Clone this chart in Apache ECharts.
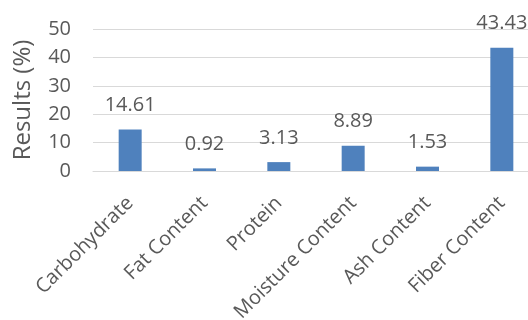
<!DOCTYPE html>
<html>
<head>
<meta charset="utf-8">
<script src="https://cdn.jsdelivr.net/npm/echarts@6/dist/echarts.min.js"></script>
<style>
  html, body { margin: 0; padding: 0; background: #fff; }
  #main { width: 528px; height: 320px; }
</style>
</head>
<body>
<div id="main"></div>
<script>
var categories = ["Carbohydrate", "Fat Content", "Protein", "Moisture Content", "Ash Content", "Fiber Content"];
var results = [14.61, 0.92, 3.13, 8.89, 1.53, 43.43];
var yTicks = [0, 10, 20, 30, 40, 50];

var textColor = "#595959";
var fontFamily = "Open Sans";

var myChart = echarts.init(document.getElementById("main"), null, { renderer: "canvas" });

var option = {
  animation: false,
  grid: {
    left: 93,
    right: -11,
    top: 29,
    bottom: 149,
    outerBoundsMode: "none"
  },
  xAxis: {
    type: "category",
    data: categories,
    axisLine: { show: true, lineStyle: { color: "#d9d9d9", width: 1 } },
    axisTick: { show: false },
    axisLabel: {
      rotate: 45,
      interval: 0,
      margin: 29,
      color: textColor,
      fontFamily: fontFamily,
      fontSize: 20
    }
  },
  yAxis: {
    type: "value",
    min: yTicks[0],
    max: yTicks[yTicks.length - 1],
    interval: 10,
    name: "Results (%)",
    nameLocation: "middle",
    nameGap: 58,
    nameTextStyle: { color: textColor, fontFamily: fontFamily, fontSize: 24 },
    axisLine: { show: false },
    axisTick: { show: false },
    splitLine: { lineStyle: { color: "#d9d9d9", width: 1 } },
    axisLabel: {
      margin: 22,
      color: textColor,
      fontFamily: fontFamily,
      fontSize: 20
    }
  },
  series: [
    {
      type: "bar",
      data: results,
      barWidth: 23,
      itemStyle: { color: "#4f81bd" },
      label: {
        show: true,
        position: "top",
        distance: 14,
        color: textColor,
        fontFamily: fontFamily,
        fontSize: 20
      }
    }
  ]
};

myChart.setOption(option);
</script>
</body>
</html>
